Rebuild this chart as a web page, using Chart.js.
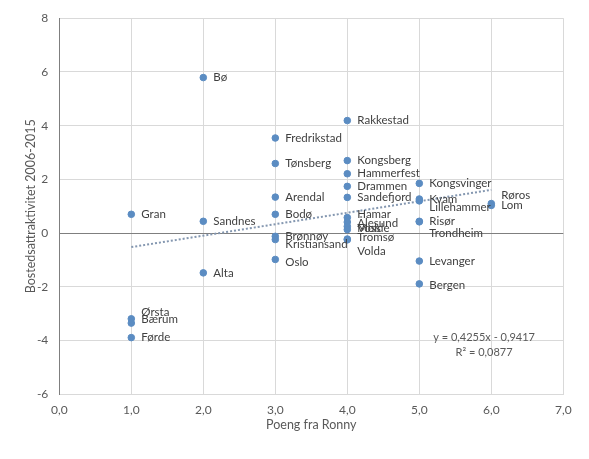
<!DOCTYPE html>
<html lang="no">
<head>
    <meta charset="UTF-8">
    <title>Bostedsattraktivitet vs poeng fra Ronny</title>
    <script src="https://cdn.jsdelivr.net/npm/chart.js"></script>
    <style>
        html, body { margin: 0; padding: 0; background: #ffffff; }
        #wrap { width: 589px; height: 459px; }
    </style>
</head>
<body>
    <div id="wrap">
        <canvas id="scatterChart" width="589" height="459"></canvas>
    </div>
    <script>
    // values
    const steder = ['Bø', 'Rakkestad', 'Fredrikstad', 'Tønsberg', 'Kongsberg', 'Hammerfest', 'Drammen',
        'Sandefjord', 'Arendal', 'Kongsvinger', 'Kvam', 'Lillehammer', 'Røros', 'Lom', 'Gran', 'Bodø',
        'Hamar', 'Ålesund', 'Sandnes', 'Risør', 'Voss', 'Molde', 'Trondheim', 'Brønnøy', 'Tromsø',
        'Kristiansand', 'Volda', 'Oslo', 'Levanger', 'Alta', 'Bergen', 'Ørsta', 'Bærum', 'Førde'];
    const poeng = [2, 4, 3, 3, 4, 4, 4, 4, 3, 5, 5, 5, 6, 6, 1, 3, 4, 4, 2, 5, 4, 4, 5, 3, 4, 3, 4, 3, 5, 2, 5, 1, 1, 1];
    const attraktivitet = [5.79, 4.19, 3.54, 2.59, 2.70, 2.21, 1.74, 1.33, 1.34, 1.85, 1.27, 1.20, 1.10, 1.03,
        0.70, 0.70, 0.58, 0.41, 0.44, 0.44, 0.25, 0.13, 0.42, -0.12, -0.22, -0.24, -0.25, -0.98, -1.04,
        -1.48, -1.89, -3.19, -3.35, -3.89];
    const trendX = [1, 6];
    const trendY = [-0.52, 1.61];
    const trendTekst = ['y = 0,4255x - 0,9417', 'R² = 0,0877'];

    // label nudges (px) where the labels were moved apart in the original
    const labelNudge = {
        'Kristiansand': 5, 'Ørsta': -7, 'Bærum': -4, 'Hamar': -3, 'Ålesund': 1, 'Voss': 2, 'Molde': -1.5,
        'Tromsø': -1.5, 'Volda': 11, 'Lillehammer': 6, 'Røros': -8, 'Trondheim': 11, 'Oslo': 3, 'Bergen': 1
    };

    const points = poeng.map((x, i) => ({ x: x, y: attraktivitet[i] }));
    const trend = trendX.map((x, i) => ({ x: x, y: trendY[i] }));

    const pointLabels = {
        id: 'pointLabels',
        afterDatasetsDraw(chart) {
            const ctx = chart.ctx;
            const meta = chart.getDatasetMeta(1);
            ctx.save();
            ctx.font = '11.5px Lato, "Liberation Sans", sans-serif';
            ctx.fillStyle = '#404040';
            ctx.textBaseline = 'middle';
            ctx.textAlign = 'left';
            meta.data.forEach((el, i) => {
                const name = steder[i];
                ctx.fillText(name, el.x + 10, el.y + (labelNudge[name] || 0));
            });
            // trendline equation
            const xs = chart.scales.x;
            const ys = chart.scales.y;
            ctx.font = '11px Lato, "Liberation Sans", sans-serif';
            ctx.textAlign = 'center';
            ctx.fillStyle = '#595959';
            const cx = xs.getPixelForValue(5.9);
            const cy = ys.getPixelForValue(-3.88);
            ctx.fillText(trendTekst[0], cx, cy);
            ctx.fillText(trendTekst[1], cx, cy + 15.5);
            ctx.restore();
        }
    };

    const ctx = document.getElementById('scatterChart').getContext('2d');
    const chart = new Chart(ctx, {
        type: 'scatter',
        data: {
            datasets: [{
                type: 'line',
                label: 'Trend',
                data: trend,
                borderColor: '#8497b0',
                borderWidth: 2,
                borderDash: [2, 2],
                pointRadius: 0,
                fill: false,
                order: 2
            }, {
                label: 'Bostedsattraktivitet',
                data: points,
                backgroundColor: '#5b8cc2',
                borderColor: '#5b8cc2',
                pointRadius: 3.3,
                order: 1
            }]
        },
        options: {
            responsive: false,
            animation: false,
            layout: {
                padding: { top: 16, right: 25.7, bottom: 0, left: 0 }
            },
            scales: {
                x: {
                    type: 'linear',
                    min: 0,
                    max: 7,
                    ticks: {
                        stepSize: 1,
                        padding: 9,
                        color: '#595959',
                        font: { family: 'Lato, "Liberation Sans", sans-serif', size: 12 },
                        callback: v => v.toFixed(1).replace('.', ',')
                    },
                    grid: { color: '#d9d9d9', drawTicks: false },
                    border: { display: true, color: '#d9d9d9' },
                    title: {
                        display: true,
                        text: 'Poeng fra Ronny',
                        color: '#595959',
                        font: { family: 'Lato, "Liberation Sans", sans-serif', size: 12.5 },
                        padding: { top: 0, bottom: 26.5 }
                    },
                    afterFit(scale) { scale.height = 64.7; }
                },
                y: {
                    type: 'linear',
                    min: -6,
                    max: 8,
                    ticks: {
                        stepSize: 2,
                        padding: 11,
                        color: '#595959',
                        font: { family: 'Lato, "Liberation Sans", sans-serif', size: 12 }
                    },
                    grid: {
                        drawTicks: false,
                        color: c => (c.tick && c.tick.value === 0) ? '#7f7f7f' : '#d9d9d9'
                    },
                    border: { display: true, color: '#7f7f7f' },
                    title: {
                        display: true,
                        text: 'Bostedsattraktivitet 2006-2015',
                        color: '#595959',
                        font: { family: 'Lato, "Liberation Sans", sans-serif', size: 12.5 },
                        padding: { top: 23, bottom: 0 }
                    },
                    afterFit(scale) { scale.width = 59.3; }
                }
            },
            plugins: {
                legend: { display: false },
                tooltip: { enabled: false }
            }
        },
        plugins: [pointLabels]
    });
    </script>
</body>
</html>
